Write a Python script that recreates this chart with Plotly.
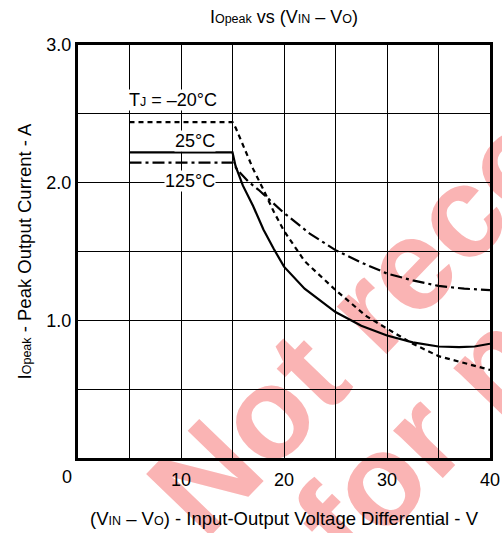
import plotly.graph_objects as go

# ---- data ----
x_m20 = [5, 15, 15.3, 16, 17, 18, 19, 20, 22, 25, 28, 30, 32.5, 35, 37.5, 40]
y_m20 = [2.44, 2.44, 2.40, 2.28, 2.10, 1.95, 1.79, 1.65, 1.43, 1.22, 1.03, 0.94, 0.83, 0.74, 0.69, 0.64]

x_25 = [5, 15, 15.3, 16, 17, 18, 19, 20, 22, 25, 27.5, 30, 32.5, 35, 37, 38.5, 40]
y_25 = [2.22, 2.22, 2.12, 1.98, 1.83, 1.66, 1.52, 1.39, 1.23, 1.06, 0.96, 0.89, 0.84, 0.81, 0.805, 0.81, 0.83]

x_125 = [5, 15, 15.5, 16.5, 17.5, 18.5, 20, 22.5, 25, 27.5, 30, 32.5, 35, 37.5, 40]
y_125 = [2.145, 2.145, 2.09, 2.01, 1.95, 1.88, 1.78, 1.63, 1.51, 1.42, 1.34, 1.29, 1.25, 1.23, 1.22]

x_grid = [0, 5, 10, 15, 20, 25, 30, 35, 40]
x_ticktext = ["", "", "10", "", "20", "", "30", "", "40"]
y_grid = [0, 0.5, 1.0, 1.5, 2.0, 2.5, 3.0]
y_ticktext = ["", "", "1.0", "", "2.0", "", "3.0"]

labels = ["T<span style='font-size:12.5px'>J</span> = \u201320\u00b0C", "25\u00b0C", "125\u00b0C"]
label_x = [9.2, 11.4, 10.9]
label_y = [2.60, 2.30, 2.01]

watermark_lines = ["Not recommended", "for new designs"]
FONT = "Liberation Sans, Arial, sans-serif"
sub = "<span style='font-size:12.5px'>{}</span>"

fig = go.Figure()
fig.add_trace(go.Scatter(x=x_m20, y=y_m20, mode="lines", line=dict(color="black", width=2.2, dash="5px,4px")))
fig.add_trace(go.Scatter(x=x_25, y=y_25, mode="lines", line=dict(color="black", width=2.2)))
fig.add_trace(go.Scatter(x=x_125, y=y_125, mode="lines", line=dict(color="black", width=2.2, dash="12px,4px,3px,4px")))

for t, lx, ly in zip(labels, label_x, label_y):
    fig.add_annotation(x=lx, y=ly, text=t, showarrow=False, bgcolor="white", borderpad=0,
                       font=dict(family=FONT, size=18, color="black"))

fig.add_annotation(x=0, y=0, xref="x", yref="y", text="0", showarrow=False, xshift=-11, yshift=-19,
                   font=dict(family=FONT, size=18, color="black"))

# x-axis title (placed in container coordinates)
fig.add_annotation(x=284 / 502, y=1 - 518 / 533, xref="paper", yref="paper", xanchor="center", yanchor="middle",
                   showarrow=False,
                   text="(V" + sub.format("IN") + " \u2013 V" + sub.format("O") + ") - Input-Output Voltage Differential - V",
                   font=dict(family=FONT, size=18.5, color="black"))

# watermark (behind the grid and curves)
wm_pos = [(1.170, 0.886), (1.398, 0.680)]
for t, (cx, cy) in zip(watermark_lines, wm_pos):
    fig.add_shape(type="line", xref="paper", yref="paper", x0=cx - 0.005, x1=cx + 0.005, y0=cy, y1=cy,
                  line=dict(color="rgba(0,0,0,0)", width=0), layer="below",
                  label=dict(text=t, textangle=-46, textposition="middle", xanchor="center", yanchor="middle",
                             font=dict(family=FONT, size=130, color="#fab4b4", weight="bold")))

fig.update_layout(
    width=502, height=533,
    margin=dict(l=78, r=12, t=45, b=75),
    paper_bgcolor="white", plot_bgcolor="rgba(0,0,0,0)",
    showlegend=False,
    font=dict(family=FONT, size=18, color="black"),
    title=dict(text="I" + sub.format("Opeak") + " vs (V" + sub.format("IN") + " \u2013 V" + sub.format("O") + ")",
               x=0.5, xref="paper", xanchor="center", y=1 - 17 / 533, yanchor="middle",
               font=dict(family=FONT, size=18, color="black")),
)
# the annotation above uses paper coords; convert container fractions to paper fractions
ann = fig.layout.annotations[-1]
ann.x = (284 - 78) / 412
ann.y = (458 - 518) / 413

fig.update_xaxes(range=[0, 40], tickvals=x_grid, ticktext=x_ticktext, showgrid=True, gridcolor="black", gridwidth=1,
                 showline=True, linecolor="black", linewidth=3, mirror=True, zeroline=False, ticks="",
                 automargin=False, ticklabelstandoff=3, tickfont=dict(family=FONT, size=18))
fig.update_yaxes(range=[0, 3], tickvals=y_grid, ticktext=y_ticktext, showgrid=True, gridcolor="black", gridwidth=1,
                 showline=True, linecolor="black", linewidth=3, mirror=True, zeroline=False, ticks="",
                 automargin=False, tickfont=dict(family=FONT, size=18),
                 title=dict(text="I" + sub.format("Opeak") + " - Peak Output Current - A",
                            font=dict(family=FONT, size=18.5), standoff=10))

fig.write_html("out.html")
